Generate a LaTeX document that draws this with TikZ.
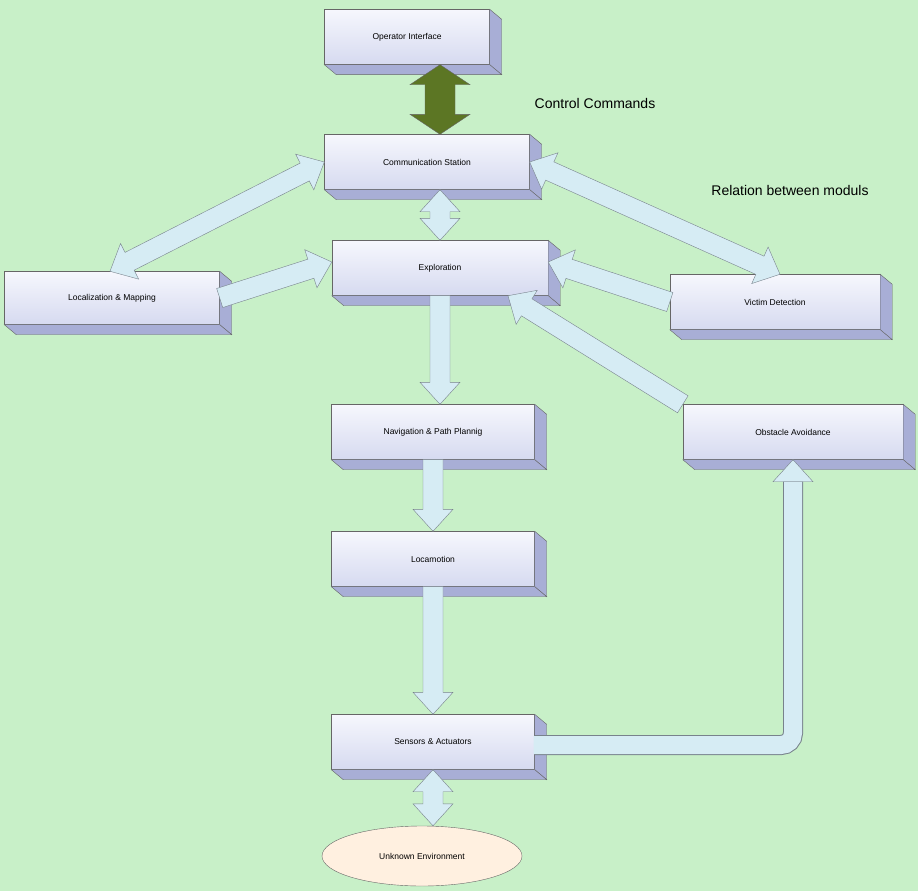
\documentclass[tikz,border=0pt]{standalone}
\usepackage{fontspec}
\setmainfont{Liberation Sans}
\usetikzlibrary{calc, backgrounds, positioning, shapes.geometric}

\definecolor{bggreen}{RGB}{200,240,200}
\definecolor{boxtop}{RGB}{246,247,253}
\definecolor{boxbot}{RGB}{214,218,240}
\definecolor{boxside}{RGB}{168,174,214}
\definecolor{arrfill}{RGB}{214,236,244}
\definecolor{arrline}{RGB}{120,130,140}
\definecolor{olive}{RGB}{92,118,36}

\tikzset{
  block/.style={draw=black!60, rectangle, top color=boxtop, bottom color=boxbot, font=\fontsize{8.5}{10}\selectfont},
  face/.style={draw=black!60, fill=boxside},
  fatarr/.style={draw=arrline, fill=arrfill, line join=miter},
  greenarr/.style={draw=black!60, fill=olive},
  caption/.style={font=\fontsize{14}{16}\selectfont}
}

% fat arrows: shaft half width, head half width, head length
\def\fashaft{10pt}\def\fahead{20pt}\def\falen{22pt}
\newcommand{\fatarrow}[3][fatarr]{%
  \coordinate (fas) at (#2); \coordinate (fae) at (#3);
  \coordinate (fam) at ($(fae)!\falen!(fas)$);
  \draw[#1] ($(fas)!\fashaft!-90:(fae)$) -- ($(fam)!\fashaft!90:(fas)$) -- ($(fam)!\fahead!90:(fas)$)
    -- (fae) -- ($(fam)!\fahead!-90:(fas)$) -- ($(fam)!\fashaft!-90:(fas)$) -- ($(fas)!\fashaft!90:(fae)$) -- cycle;}
\newcommand{\fatdarrow}[3][fatarr]{%
  \coordinate (fas) at (#2); \coordinate (fae) at (#3);
  \coordinate (fam) at ($(fae)!\falen!(fas)$);
  \coordinate (fan) at ($(fas)!\falen!(fae)$);
  \draw[#1] (fas) -- ($(fan)!\fahead!90:(fae)$) -- ($(fan)!\fashaft!90:(fae)$) -- ($(fam)!\fashaft!-90:(fas)$)
    -- ($(fam)!\fahead!-90:(fas)$) -- (fae) -- ($(fam)!\fahead!90:(fas)$) -- ($(fam)!\fashaft!90:(fas)$)
    -- ($(fan)!\fashaft!-90:(fae)$) -- ($(fan)!\fahead!-90:(fae)$) -- cycle;}

\begin{document}
\begin{tikzpicture}[x=1pt, y=-1pt]
\useasboundingbox (0,0) rectangle (918,891);

\node[block, minimum width=165pt, minimum height=55pt] (op) at (407,37) {Operator Interface};
\node[block, minimum width=205pt, minimum height=55pt] (comm) at (427,162) {Communication Station};
\node[block, minimum width=216pt, minimum height=55pt] (expl) at (440,268) {Exploration};
\node[block, minimum width=215pt, minimum height=53pt] (loc) at (112,298) {Localization \& Mapping};
\node[block, minimum width=210pt, minimum height=55pt] (vict) at (775,302) {Victim Detection};
\node[block, minimum width=203pt, minimum height=55pt] (nav) at (433,432) {Navigation \& Path Plannig};
\node[block, minimum width=220pt, minimum height=55pt] (obst) at (793,432) {Obstacle Avoidance};
\node[block, minimum width=203pt, minimum height=55pt] (loco) at (433,559) {Locamotion};
\node[block, minimum width=203pt, minimum height=55pt] (sens) at (433,742) {Sensors \& Actuators};
\node[ellipse, draw=black!60, fill=orange!12, minimum width=200pt, minimum height=60pt,
      font=\fontsize{8.5}{10}\selectfont] (env) at (422,856) {Unknown Environment};

% 3D faces
\foreach \n in {op, comm, expl, loc, vict, nav, obst, loco, sens} {
  \draw[face] (\n.north east) -- ($(\n.north east)+(12,10)$) -- ($(\n.south east)+(12,10)$) -- (\n.south east) -- cycle;
  \draw[face] (\n.south west) -- (\n.south east) -- ($(\n.south east)+(12,10)$) -- ($(\n.south west)+(12,10)$) -- cycle;
}

% connectors
{\def\fashaft{15pt}\def\fahead{30pt}\def\falen{20pt}
 \fatdarrow[greenarr]{[xshift=33pt]op.south}{[xshift=13pt]comm.north}}
\fatdarrow{[xshift=13pt]comm.south}{expl.north}
\fatdarrow{comm.west}{[xshift=-2pt]loc.north}
\fatdarrow{comm.east}{[xshift=5pt]vict.north}
\fatarrow{loc.east}{[yshift=6pt]expl.west}
\fatarrow{vict.west}{[yshift=6pt]expl.east}
\fatarrow{obst.north west}{[xshift=68pt]expl.south}
\fatarrow{expl.south}{expl.south |- nav.north}
\fatarrow{nav.south}{loco.north}
\fatarrow{loco.south}{sens.north}
\fatdarrow{sens.south}{sens.south |- env.north}

% bent connector to obstacle avoidance
\draw[arrline, line width=20pt, rounded corners=12pt] ([yshift=-3pt]sens.east) -| ([yshift=-21pt]obst.south);
\draw[arrfill, line width=18pt, rounded corners=12pt] ([xshift=-1pt,yshift=-3pt]sens.east) -| ([yshift=-22pt]obst.south);
\draw[fatarr] ([yshift=-22pt]obst.south) -- ([xshift=-20pt,yshift=-22pt]obst.south) -- (obst.south)
  -- ([xshift=20pt,yshift=-22pt]obst.south) -- cycle;

\node[caption] (cc) at (595,103) {Control Commands};
\node[caption] (rel) at (790,190) {Relation between moduls};

\begin{scope}[on background layer]
  \fill[bggreen] (0,0) rectangle (918,891);
\end{scope}
\end{tikzpicture}
\end{document}
